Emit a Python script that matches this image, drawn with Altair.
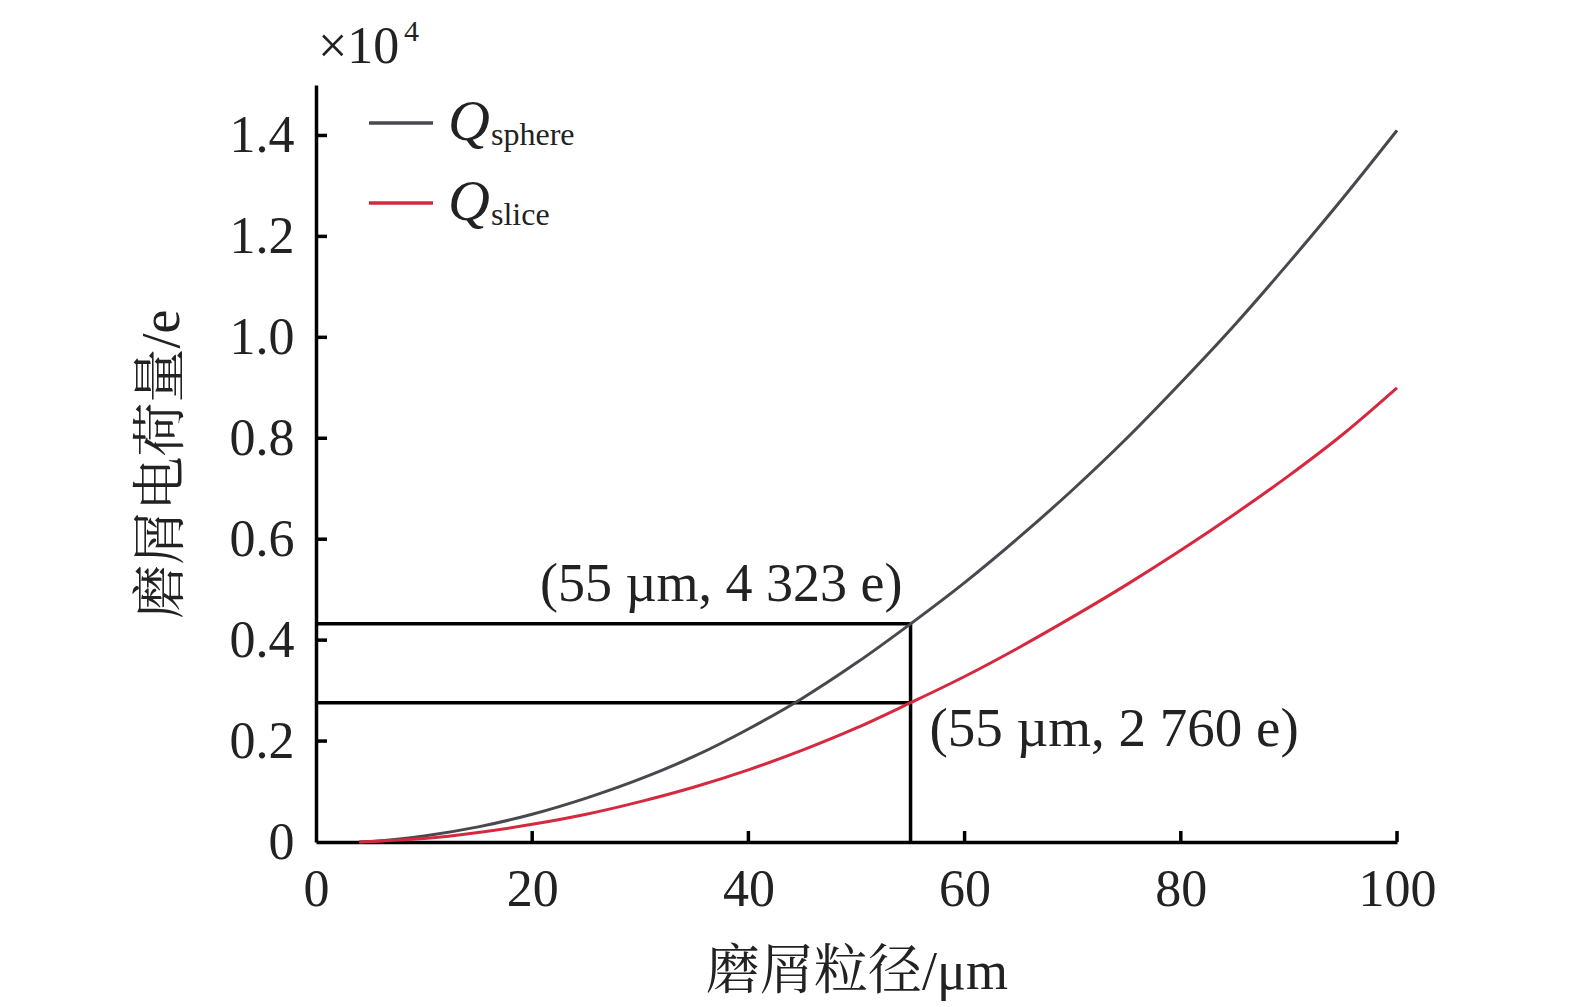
import altair as alt
import pandas as pd

# ---- data (values in units of 10^4 e) ----
diameter = [4, 5, 10, 15, 20, 25, 30, 35, 40, 45, 50, 55, 60, 65, 70, 75, 80, 85, 90, 95, 100]
q_sphere = [0, 0.001, 0.012, 0.030, 0.055, 0.087, 0.125, 0.170, 0.224, 0.285, 0.355, 0.4323,
            0.514, 0.603, 0.698, 0.800, 0.910, 1.025, 1.148, 1.276, 1.410]
q_slice = [0, 0.001, 0.007, 0.019, 0.035, 0.055, 0.080, 0.109, 0.143, 0.182, 0.226, 0.276,
           0.328, 0.385, 0.446, 0.510, 0.578, 0.650, 0.726, 0.808, 0.900]
series_names = ["sphere", "slice"]
series_colors = ["#48494f", "#d6283f"]

mark_x = 55
mark_e = [4323, 2760]
mark_labels = ["(55 µm, 4 323 e)", "(55 µm, 2 760 e)"]

x_ticks = [0, 20, 40, 60, 80, 100]
y_ticks = [0, 0.2, 0.4, 0.6, 0.8, 1.0, 1.2, 1.4]

SERIF = "Liberation Serif, Noto Serif CJK SC, Noto Sans CJK SC"
W, H = 1081, 757

rows = []
for name, vals in zip(series_names, [q_sphere, q_slice]):
    for d, v in zip(diameter, vals):
        rows.append({"d": d, "q": v, "s": name})
df = pd.DataFrame(rows)

xs = alt.Scale(domain=[0, 100], nice=False, zero=False)
ys = alt.Scale(domain=[0, 1.5], nice=False)
cs = alt.Scale(domain=series_names, range=series_colors)

base = alt.Chart(df)

lines = base.mark_line(strokeWidth=3, interpolate="monotone").encode(
    x=alt.X("d:Q", scale=xs,
            axis=alt.Axis(values=x_ticks, title="磨屑粒径/μm", ticks=False, grid=False,
                          labelPadding=22, titlePadding=30, domainWidth=3.5, domainColor="black",
                          labelFontSize=52, titleFontSize=54, labelFont=SERIF, titleFont=SERIF,
                          labelColor="#222", titleColor="#222", titleFontWeight="normal",
                          labelFlush=False)),
    y=alt.Y("q:Q", scale=ys,
            axis=alt.Axis(values=y_ticks, title="磨屑电荷量/e", ticks=False, grid=False,
                          labelPadding=22, titlePadding=40, domainWidth=3.5, domainColor="black",
                          labelFontSize=52, titleFontSize=54, labelFont=SERIF, titleFont=SERIF,
                          labelColor="#222", titleColor="#222", titleFontWeight="normal",
                          labelExpr="datum.value == 0 ? '0' : format(datum.value, '.1f')")),
    color=alt.Color("s:N", scale=cs, legend=None),
)

# inward ticks
ytick_df = pd.DataFrame({"y": y_ticks[1:]})
yticks = alt.Chart(ytick_df).mark_rule(color="black", strokeWidth=3.5).encode(
    y=alt.Y("y:Q", scale=ys), x=alt.value(0), x2=alt.value(11))
xtick_df = pd.DataFrame({"x": x_ticks[1:]})
xticks = alt.Chart(xtick_df).mark_rule(color="black", strokeWidth=3.5).encode(
    x=alt.X("x:Q", scale=xs), y=alt.value(H), y2=alt.value(H - 11))

# reference lines
ref_df = pd.DataFrame({"x0": [0, 0], "x1": [mark_x, mark_x], "q": [e / 1e4 for e in mark_e],
                       "label": mark_labels})
hrules = alt.Chart(ref_df).mark_rule(color="black", strokeWidth=3.5).encode(
    x=alt.X("x0:Q", scale=xs), x2="x1:Q", y=alt.Y("q:Q", scale=ys))
vrule = alt.Chart(pd.DataFrame({"x": [mark_x], "y0": [0], "y1": [mark_e[0] / 1e4]})).mark_rule(
    color="black", strokeWidth=3.5).encode(
    x=alt.X("x:Q", scale=xs), y=alt.Y("y0:Q", scale=ys), y2="y1:Q")

lab_top = alt.Chart(ref_df.iloc[[0]]).mark_text(
    align="right", baseline="bottom", dx=-8, dy=-12, fontSize=54, font=SERIF, color="#222").encode(
    x=alt.X("x1:Q", scale=xs), y=alt.Y("q:Q", scale=ys), text="label:N")
lab_bot = alt.Chart(ref_df.iloc[[1]]).mark_text(
    align="left", baseline="middle", dx=19, dy=26, fontSize=55, font=SERIF, color="#222").encode(
    x=alt.X("x1:Q", scale=xs), y=alt.Y("q:Q", scale=ys), text="label:N")

# custom legend
leg_df = pd.DataFrame({"s": series_names, "ypix": [38, 118]})
leg_lines = alt.Chart(leg_df).mark_rule(strokeWidth=3.5).encode(
    x=alt.value(53), x2=alt.value(117), y=alt.Y("ypix:Q", scale=None),
    color=alt.Color("s:N", scale=cs, legend=None))
leg_q = alt.Chart(leg_df).mark_text(
    align="left", baseline="middle", fontSize=58, font=SERIF, fontStyle="italic", color="#222").encode(
    x=alt.value(132), y=alt.Y("ypix:Q", scale=None), text=alt.value("Q"))
leg_sub = alt.Chart(leg_df).mark_text(
    align="left", baseline="middle", fontSize=32, font=SERIF, color="#222", dy=12).encode(
    x=alt.value(175), y=alt.Y("ypix:Q", scale=None), text="s:N")

# x10^4 multiplier
mult = alt.Chart(pd.DataFrame({"t": ["×10"]})).mark_text(
    align="left", baseline="alphabetic", fontSize=52, font=SERIF, color="#222").encode(
    x=alt.value(2), y=alt.value(-22), text="t:N")
mult_exp = alt.Chart(pd.DataFrame({"t": ["4"]})).mark_text(
    align="left", baseline="alphabetic", fontSize=30, font=SERIF, color="#222").encode(
    x=alt.value(88), y=alt.value(-44), text="t:N")

chart = alt.layer(
    hrules, vrule, lines, yticks, xticks, lab_top, lab_bot,
    leg_lines, leg_q, leg_sub, mult, mult_exp
).properties(
    width=W, height=H,
    background="white",
    autosize=alt.AutoSizeParams(type="none"),
    padding={"left": 308, "top": 77, "right": 100, "bottom": 162},
).configure_view(stroke=None)

chart.save("out.html", embed_options={"renderer": "svg", "actions": False})
